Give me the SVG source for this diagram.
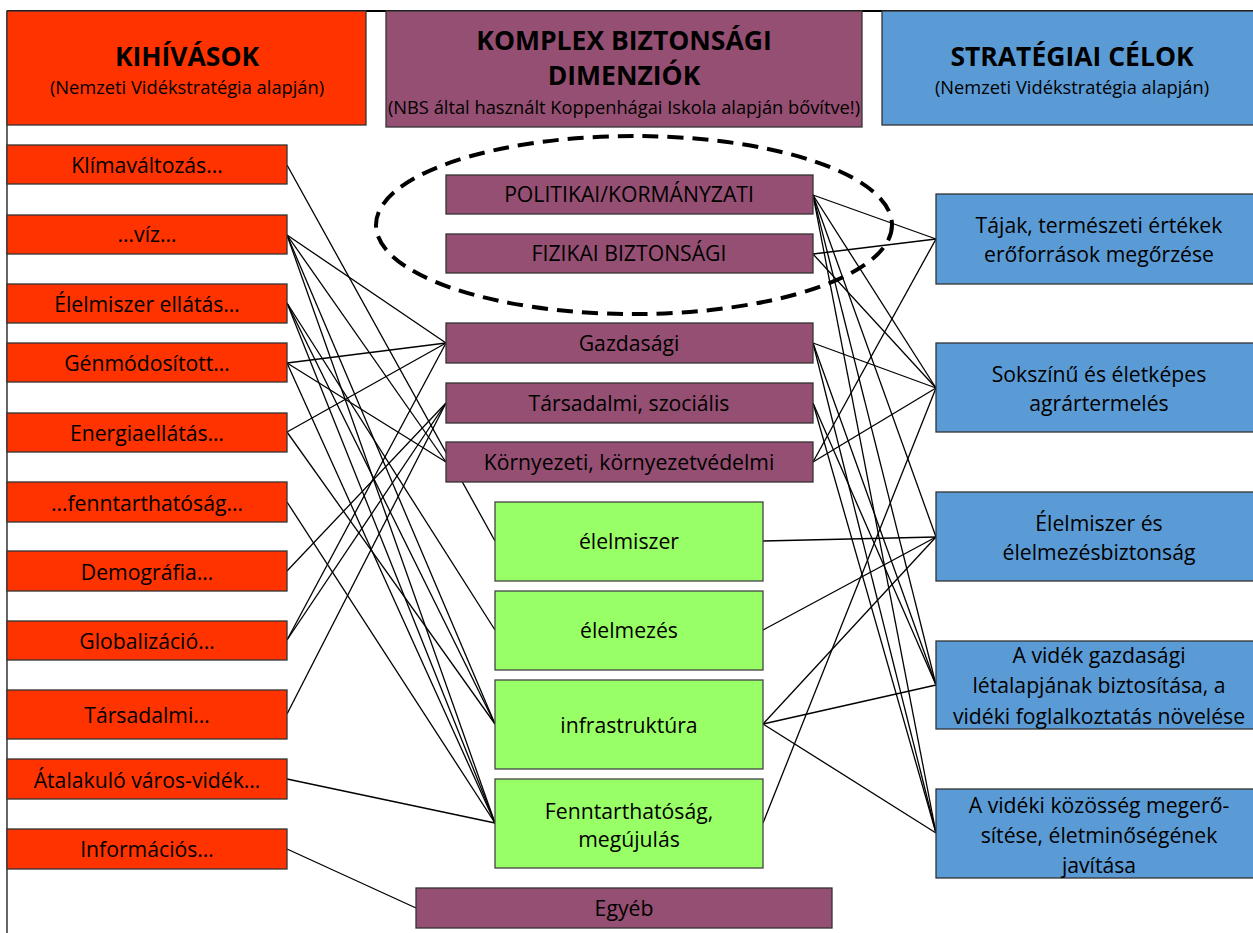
<svg xmlns="http://www.w3.org/2000/svg" width="1253" height="933" viewBox="0 0 1253 933">
<style>
text{font-family:"Open Sans","Noto Sans","Liberation Sans",sans-serif;fill:#000;text-anchor:middle}
.red{fill:#FF3300;stroke:#333;stroke-width:1.3}
.pur{fill:#954F72;stroke:#333;stroke-width:1.3}
.grn{fill:#99FF66;stroke:#444;stroke-width:1.3}
.blu{fill:#5B9BD5;stroke:#333;stroke-width:1.3}
.lbl{font-size:21.2px}
.ttl{font-size:26.5px;font-weight:bold}
.sub{font-size:18.3px}
#connectors line{stroke:#000;stroke-width:1.3}
</style>
<rect width="1253" height="933" fill="#fff"/>
<g id="frame">
<line x1="7" y1="11" x2="1253" y2="11" stroke="#000" stroke-width="2"/>
<line x1="7" y1="11" x2="7" y2="933" stroke="#333" stroke-width="1.5"/>
</g>
<g id="connectors">
<line x1="287" y1="165" x2="495" y2="541"/>
<line x1="287" y1="235" x2="446" y2="343"/>
<line x1="287" y1="235" x2="446" y2="462"/>
<line x1="287" y1="235" x2="495" y2="724"/>
<line x1="287" y1="235" x2="495" y2="823"/>
<line x1="287" y1="303" x2="495" y2="630"/>
<line x1="287" y1="303" x2="495" y2="724"/>
<line x1="287" y1="303" x2="495" y2="823"/>
<line x1="287" y1="363" x2="446" y2="343"/>
<line x1="287" y1="363" x2="446" y2="462"/>
<line x1="287" y1="363" x2="495" y2="823"/>
<line x1="287" y1="432" x2="446" y2="343"/>
<line x1="287" y1="432" x2="495" y2="724"/>
<line x1="287" y1="502" x2="495" y2="823"/>
<line x1="287" y1="571" x2="446" y2="403"/>
<line x1="287" y1="640" x2="446" y2="343"/>
<line x1="287" y1="640" x2="446" y2="403"/>
<line x1="287" y1="714" x2="446" y2="403"/>
<line x1="287" y1="779" x2="495" y2="823"/>
<line x1="287" y1="849" x2="416" y2="908"/>
<line x1="813" y1="195" x2="936" y2="239"/>
<line x1="813" y1="195" x2="936" y2="388"/>
<line x1="813" y1="195" x2="936" y2="537"/>
<line x1="813" y1="195" x2="936" y2="685"/>
<line x1="813" y1="195" x2="936" y2="833"/>
<line x1="813" y1="254" x2="936" y2="239"/>
<line x1="813" y1="254" x2="936" y2="388"/>
<line x1="813" y1="343" x2="936" y2="388"/>
<line x1="813" y1="343" x2="936" y2="685"/>
<line x1="813" y1="343" x2="936" y2="833"/>
<line x1="813" y1="403" x2="936" y2="685"/>
<line x1="813" y1="403" x2="936" y2="833"/>
<line x1="813" y1="462" x2="936" y2="239"/>
<line x1="813" y1="462" x2="936" y2="388"/>
<line x1="763" y1="541" x2="936" y2="537"/>
<line x1="763" y1="630" x2="936" y2="537"/>
<line x1="763" y1="724" x2="936" y2="537"/>
<line x1="763" y1="724" x2="936" y2="685"/>
<line x1="763" y1="724" x2="936" y2="833"/>
<line x1="763" y1="823" x2="936" y2="388"/>
</g>
<ellipse id="dashed-group" cx="634" cy="225" rx="258" ry="89" fill="none" stroke="#000" stroke-width="4" stroke-dasharray="16 9"/>
<g id="h-kihivasok"><rect class="red" x="7" y="11" width="359" height="114"/>
<text class="ttl" x="187" y="66">KIHÍVÁSOK</text>
<text class="sub" x="187" y="94">(Nemzeti Vidékstratégia alapján)</text></g>
<g id="h-dimenziok"><rect class="pur" x="386" y="11" width="476" height="116"/>
<text class="ttl" x="624" y="50">KOMPLEX BIZTONSÁGI</text>
<text class="ttl" x="624" y="85">DIMENZIÓK</text>
<text class="sub" x="624" y="114">(NBS által használt Koppenhágai Iskola alapján bővítve!)</text></g>
<g id="h-celok"><rect class="blu" x="882" y="11" width="380" height="114"/>
<text class="ttl" x="1072" y="66">STRATÉGIAI CÉLOK</text>
<text class="sub" x="1072" y="94">(Nemzeti Vidékstratégia alapján)</text></g>
<g id="k1"><rect class="red" x="7" y="145" width="280" height="39"/><text class="lbl" x="147" y="173">Klímaváltozás…</text></g>
<g id="k2"><rect class="red" x="7" y="215" width="280" height="39"/><text class="lbl" x="147" y="242">…víz…</text></g>
<g id="k3"><rect class="red" x="7" y="284" width="280" height="39"/><text class="lbl" x="147" y="312">Élelmiszer ellátás…</text></g>
<g id="k4"><rect class="red" x="7" y="343" width="280" height="39"/><text class="lbl" x="147" y="371">Génmódosított…</text></g>
<g id="k5"><rect class="red" x="7" y="413" width="280" height="39"/><text class="lbl" x="147" y="441">Energiaellátás…</text></g>
<g id="k6"><rect class="red" x="7" y="482" width="280" height="40"/><text class="lbl" x="147" y="511">…fenntarthatóság…</text></g>
<g id="k7"><rect class="red" x="7" y="551" width="280" height="40"/><text class="lbl" x="147" y="580">Demográfia…</text></g>
<g id="k8"><rect class="red" x="7" y="621" width="280" height="39"/><text class="lbl" x="147" y="649">Globalizáció…</text></g>
<g id="k9"><rect class="red" x="7" y="690" width="280" height="49"/><text class="lbl" x="147" y="723">Társadalmi…</text></g>
<g id="k10"><rect class="red" x="7" y="759" width="280" height="40"/><text class="lbl" x="147" y="788">Átalakuló város-vidék…</text></g>
<g id="k11"><rect class="red" x="7" y="829" width="280" height="40"/><text class="lbl" x="147" y="857">Információs…</text></g>
<g id="d1"><rect class="pur" x="446" y="175" width="367" height="39"/><text class="lbl" x="629" y="202">POLITIKAI/KORMÁNYZATI</text></g>
<g id="d2"><rect class="pur" x="446" y="234" width="367" height="39"/><text class="lbl" x="629" y="261">FIZIKAI BIZTONSÁGI</text></g>
<g id="d3"><rect class="pur" x="446" y="323" width="367" height="40"/><text class="lbl" x="629" y="351">Gazdasági</text></g>
<g id="d4"><rect class="pur" x="446" y="383" width="367" height="40"/><text class="lbl" x="629" y="411">Társadalmi, szociális</text></g>
<g id="d5"><rect class="pur" x="446" y="442" width="367" height="40"/><text class="lbl" x="629" y="470">Környezeti, környezetvédelmi</text></g>
<g id="g1"><rect class="grn" x="495" y="502" width="268" height="79"/><text class="lbl" x="629" y="549">élelmiszer</text></g>
<g id="g2"><rect class="grn" x="495" y="591" width="268" height="79"/><text class="lbl" x="629" y="638">élelmezés</text></g>
<g id="g3"><rect class="grn" x="495" y="680" width="268" height="89"/><text class="lbl" x="629" y="733">infrastruktúra</text></g>
<g id="g4"><rect class="grn" x="495" y="779" width="268" height="89"/><text class="lbl" x="629" y="819">Fenntarthatóság,</text><text class="lbl" x="629" y="847">megújulás</text></g>
<g id="d6"><rect class="pur" x="416" y="888" width="416" height="40"/><text class="lbl" x="624" y="916">Egyéb</text></g>
<g id="c1"><rect class="blu" x="936" y="194" width="326" height="90"/><text class="lbl" x="1099" y="233">Tájak, természeti értékek</text><text class="lbl" x="1099" y="262">erőforrások megőrzése</text></g>
<g id="c2"><rect class="blu" x="936" y="343" width="326" height="89"/><text class="lbl" x="1099" y="382">Sokszínű és életképes</text><text class="lbl" x="1099" y="411">agrártermelés</text></g>
<g id="c3"><rect class="blu" x="936" y="492" width="326" height="89"/><text class="lbl" x="1099" y="531">Élelmiszer és</text><text class="lbl" x="1099" y="560">élelmezésbiztonság</text></g>
<g id="c4"><rect class="blu" x="936" y="641" width="326" height="88"/><text class="lbl" x="1099" y="663">A vidék gazdasági</text><text class="lbl" x="1099" y="693">létalapjának biztosítása, a</text><text class="lbl" x="1099" y="724">vidéki foglalkoztatás növelése</text></g>
<g id="c5"><rect class="blu" x="936" y="789" width="326" height="89"/><text class="lbl" x="1099" y="813">A vidéki közösség megerő-</text><text class="lbl" x="1099" y="843">sítése, életminőségének</text><text class="lbl" x="1099" y="873">javítása</text></g>
</svg>
